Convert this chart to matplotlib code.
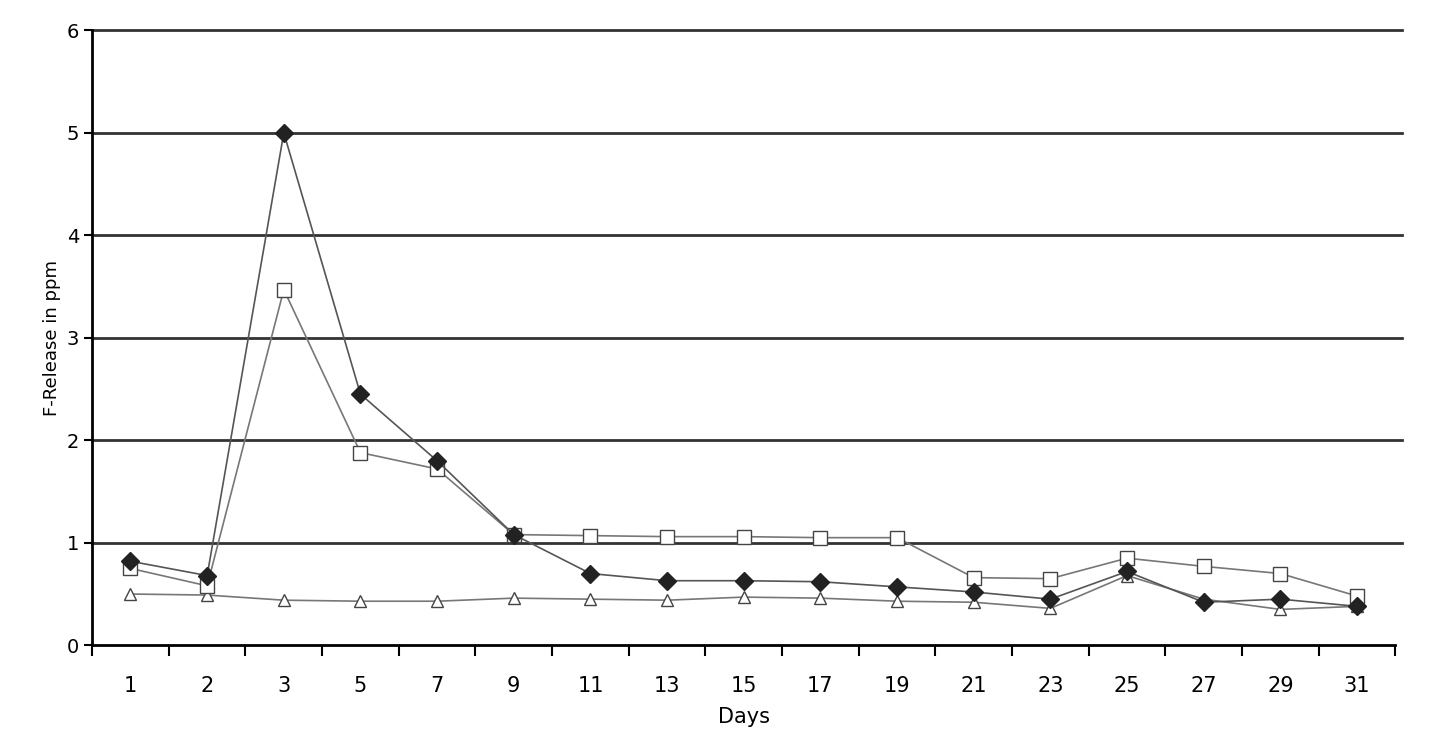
import matplotlib.pyplot as plt
import numpy as np

days = ["1", "2", "3", "5", "7", "9", "11", "13", "15", "17", "19", "21", "23", "25", "27", "29", "31"]
diamond_vals = [0.82, 0.68, 5.0, 2.45, 1.8, 1.08, 0.7, 0.63, 0.63, 0.62, 0.57, 0.52, 0.45, 0.72, 0.42, 0.45, 0.38]
square_vals = [0.75, 0.58, 3.47, 1.88, 1.72, 1.08, 1.07, 1.06, 1.06, 1.05, 1.05, 0.66, 0.65, 0.85, 0.77, 0.7, 0.48]
triangle_vals = [0.5, 0.49, 0.44, 0.43, 0.43, 0.46, 0.45, 0.44, 0.47, 0.46, 0.43, 0.42, 0.36, 0.68, 0.45, 0.35, 0.38]

fig = plt.figure(figsize=(14.4, 7.4), dpi=100)
ax = fig.add_axes([0.064, 0.128, 0.905, 0.831])

x = np.arange(len(days))
for yv in range(1, 7):
    ax.axhline(yv, color="#333333", lw=2, zorder=1, clip_on=False, xmax=1.005)

ax.plot(x, triangle_vals, color="#777777", lw=1.2, marker="^", ms=8,
        mfc="white", mec="#444444", zorder=3)
ax.plot(x, square_vals, color="#777777", lw=1.2, marker="s", ms=10,
        mfc="white", mec="#444444", zorder=4)
ax.plot(x, diamond_vals, color="#555555", lw=1.2, marker="D", ms=9,
        mfc="#222222", mec="#222222", zorder=5)

ax.set_xlim(-0.47, len(days) - 0.5)
ax.set_ylim(0, 6)
ax.set_yticks(range(7))
ax.set_xticks(x)
ax.set_xticklabels(days)
ax.set_xticks(np.arange(-0.5, len(days)), minor=True)
ax.tick_params(axis="x", which="major", length=0, labelsize=15, pad=22)
ax.tick_params(axis="x", which="minor", length=8, width=1.5)
ax.tick_params(axis="y", labelsize=14, length=6, width=1.5)
for s in ["top", "right"]:
    ax.spines[s].set_visible(False)
for s in ["left", "bottom"]:
    ax.spines[s].set_linewidth(2)
ax.set_xlabel("Days", fontsize=15, labelpad=8)
ax.set_ylabel("F-Release in ppm", fontsize=13)

fig.savefig("out.png", dpi=100)
